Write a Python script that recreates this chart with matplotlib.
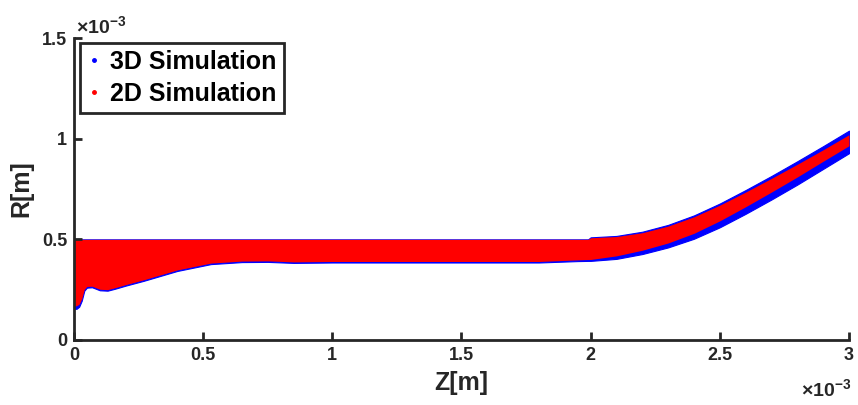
import numpy as np
import matplotlib.pyplot as plt
from matplotlib.lines import Line2D

plt.rcParams['font.family'] = 'Liberation Sans'
plt.rcParams['font.weight'] = 'bold'
plt.rcParams['mathtext.fontset'] = 'custom'
plt.rcParams['mathtext.rm'] = 'Liberation Sans'
plt.rcParams['mathtext.bf'] = 'Liberation Sans:bold'

# jet boundary, z and r in units of 1e-3 m
z_3d = [0.0, 0.01, 0.02, 0.03, 0.04, 0.05, 0.07, 0.1, 0.13, 0.16, 0.2, 0.27, 0.4,
        0.53, 0.65, 0.75, 0.85, 1.0, 1.5, 1.8, 1.95, 1.99, 2.0, 2.1, 2.2, 2.3, 2.4,
        2.5, 2.6, 2.7, 2.8, 2.9, 3.0]
r_top_3d = [0.5, 0.5, 0.5, 0.5, 0.5, 0.5, 0.5, 0.5, 0.5, 0.5, 0.5, 0.5, 0.5,
            0.5, 0.5, 0.5, 0.5, 0.5, 0.5, 0.5, 0.5, 0.5, 0.51, 0.517, 0.538, 0.572, 0.619,
            0.678, 0.745, 0.815, 0.888, 0.963, 1.04]
r_bot_3d = [0.155, 0.155, 0.165, 0.195, 0.245, 0.26, 0.262, 0.247, 0.245, 0.255, 0.27, 0.294, 0.343,
            0.377, 0.387, 0.388, 0.383, 0.385, 0.385, 0.385, 0.392, 0.393, 0.393, 0.403, 0.427, 0.46, 0.503,
            0.56, 0.627, 0.698, 0.772, 0.85, 0.928]

z_2d = [0.0, 0.01, 0.02, 0.03, 0.04, 0.05, 0.07, 0.1, 0.13, 0.16, 0.2, 0.27, 0.4,
        0.53, 0.65, 0.75, 0.85, 1.0, 1.5, 1.8, 1.95, 1.99, 2.0, 2.1, 2.2, 2.3, 2.4,
        2.5, 2.6, 2.7, 2.8, 2.9, 3.0]
r_top_2d = [0.5, 0.5, 0.5, 0.5, 0.5, 0.5, 0.5, 0.5, 0.5, 0.5, 0.5, 0.5, 0.5,
            0.5, 0.5, 0.5, 0.5, 0.5, 0.5, 0.5, 0.5, 0.5, 0.508, 0.514, 0.533, 0.566, 0.612,
            0.67, 0.735, 0.803, 0.873, 0.945, 1.02]
r_bot_2d = [0.17, 0.17, 0.178, 0.205, 0.252, 0.266, 0.267, 0.252, 0.25, 0.26, 0.275, 0.299, 0.348,
            0.382, 0.392, 0.393, 0.388, 0.39, 0.39, 0.39, 0.398, 0.4, 0.4, 0.418, 0.446, 0.482, 0.53,
            0.592, 0.662, 0.735, 0.81, 0.888, 0.965]

x_ticks = [0, 0.5, 1, 1.5, 2, 2.5, 3]
y_ticks = [0, 0.5, 1, 1.5]

fig = plt.figure(figsize=(8.58, 4.05), dpi=100)
ax = fig.add_axes([0.0862, 0.1605, 0.9033, 0.7455])

ax.fill_between(z_3d, r_bot_3d, r_top_3d, color='blue', lw=0.8)
ax.fill_between(z_2d, r_bot_2d, r_top_2d, color='red', lw=0)

ax.set_xlim(0, 3)
ax.set_ylim(0, 1.5)
ax.set_xticks(x_ticks)
ax.set_yticks(y_ticks)
ax.set_xticklabels(['%g' % t for t in x_ticks])
ax.set_yticklabels(['%g' % t for t in y_ticks])

dark = '#262626'
for side in ['top', 'right']:
    ax.spines[side].set_visible(False)
for side in ['left', 'bottom']:
    ax.spines[side].set_linewidth(2)
    ax.spines[side].set_color(dark)
ax.tick_params(direction='in', length=6, width=2, color=dark, labelsize=13,
               labelcolor=dark, pad=5)

ax.set_xlabel('Z[m]', fontsize=18, fontweight='bold', color=dark, labelpad=5)
ax.set_ylabel('R[m]', fontsize=18, fontweight='bold', color=dark, labelpad=6)

ax.text(0.003, 1.003, r'$\times\mathbf{10^{-3}}$', transform=ax.transAxes,
        fontsize=14, color=dark, ha='left', va='bottom')
ax.text(1.003, -0.125, r'$\times\mathbf{10^{-3}}$', transform=ax.transAxes,
        fontsize=14, color=dark, ha='right', va='top')

handles = [Line2D([], [], ls='none', marker='.', ms=5, color='blue'),
           Line2D([], [], ls='none', marker='.', ms=5, color='red')]
leg = ax.legend(handles, ['3D Simulation', '2D Simulation'], loc='upper left',
                bbox_to_anchor=(0.008, 0.985), borderaxespad=0, fontsize=18,
                handlelength=0.5, handletextpad=0.4, borderpad=0.3,
                labelspacing=0.3, fancybox=False, framealpha=1)
leg.get_frame().set_edgecolor(dark)
leg.get_frame().set_linewidth(2)

fig.savefig('out.png', dpi=100)
